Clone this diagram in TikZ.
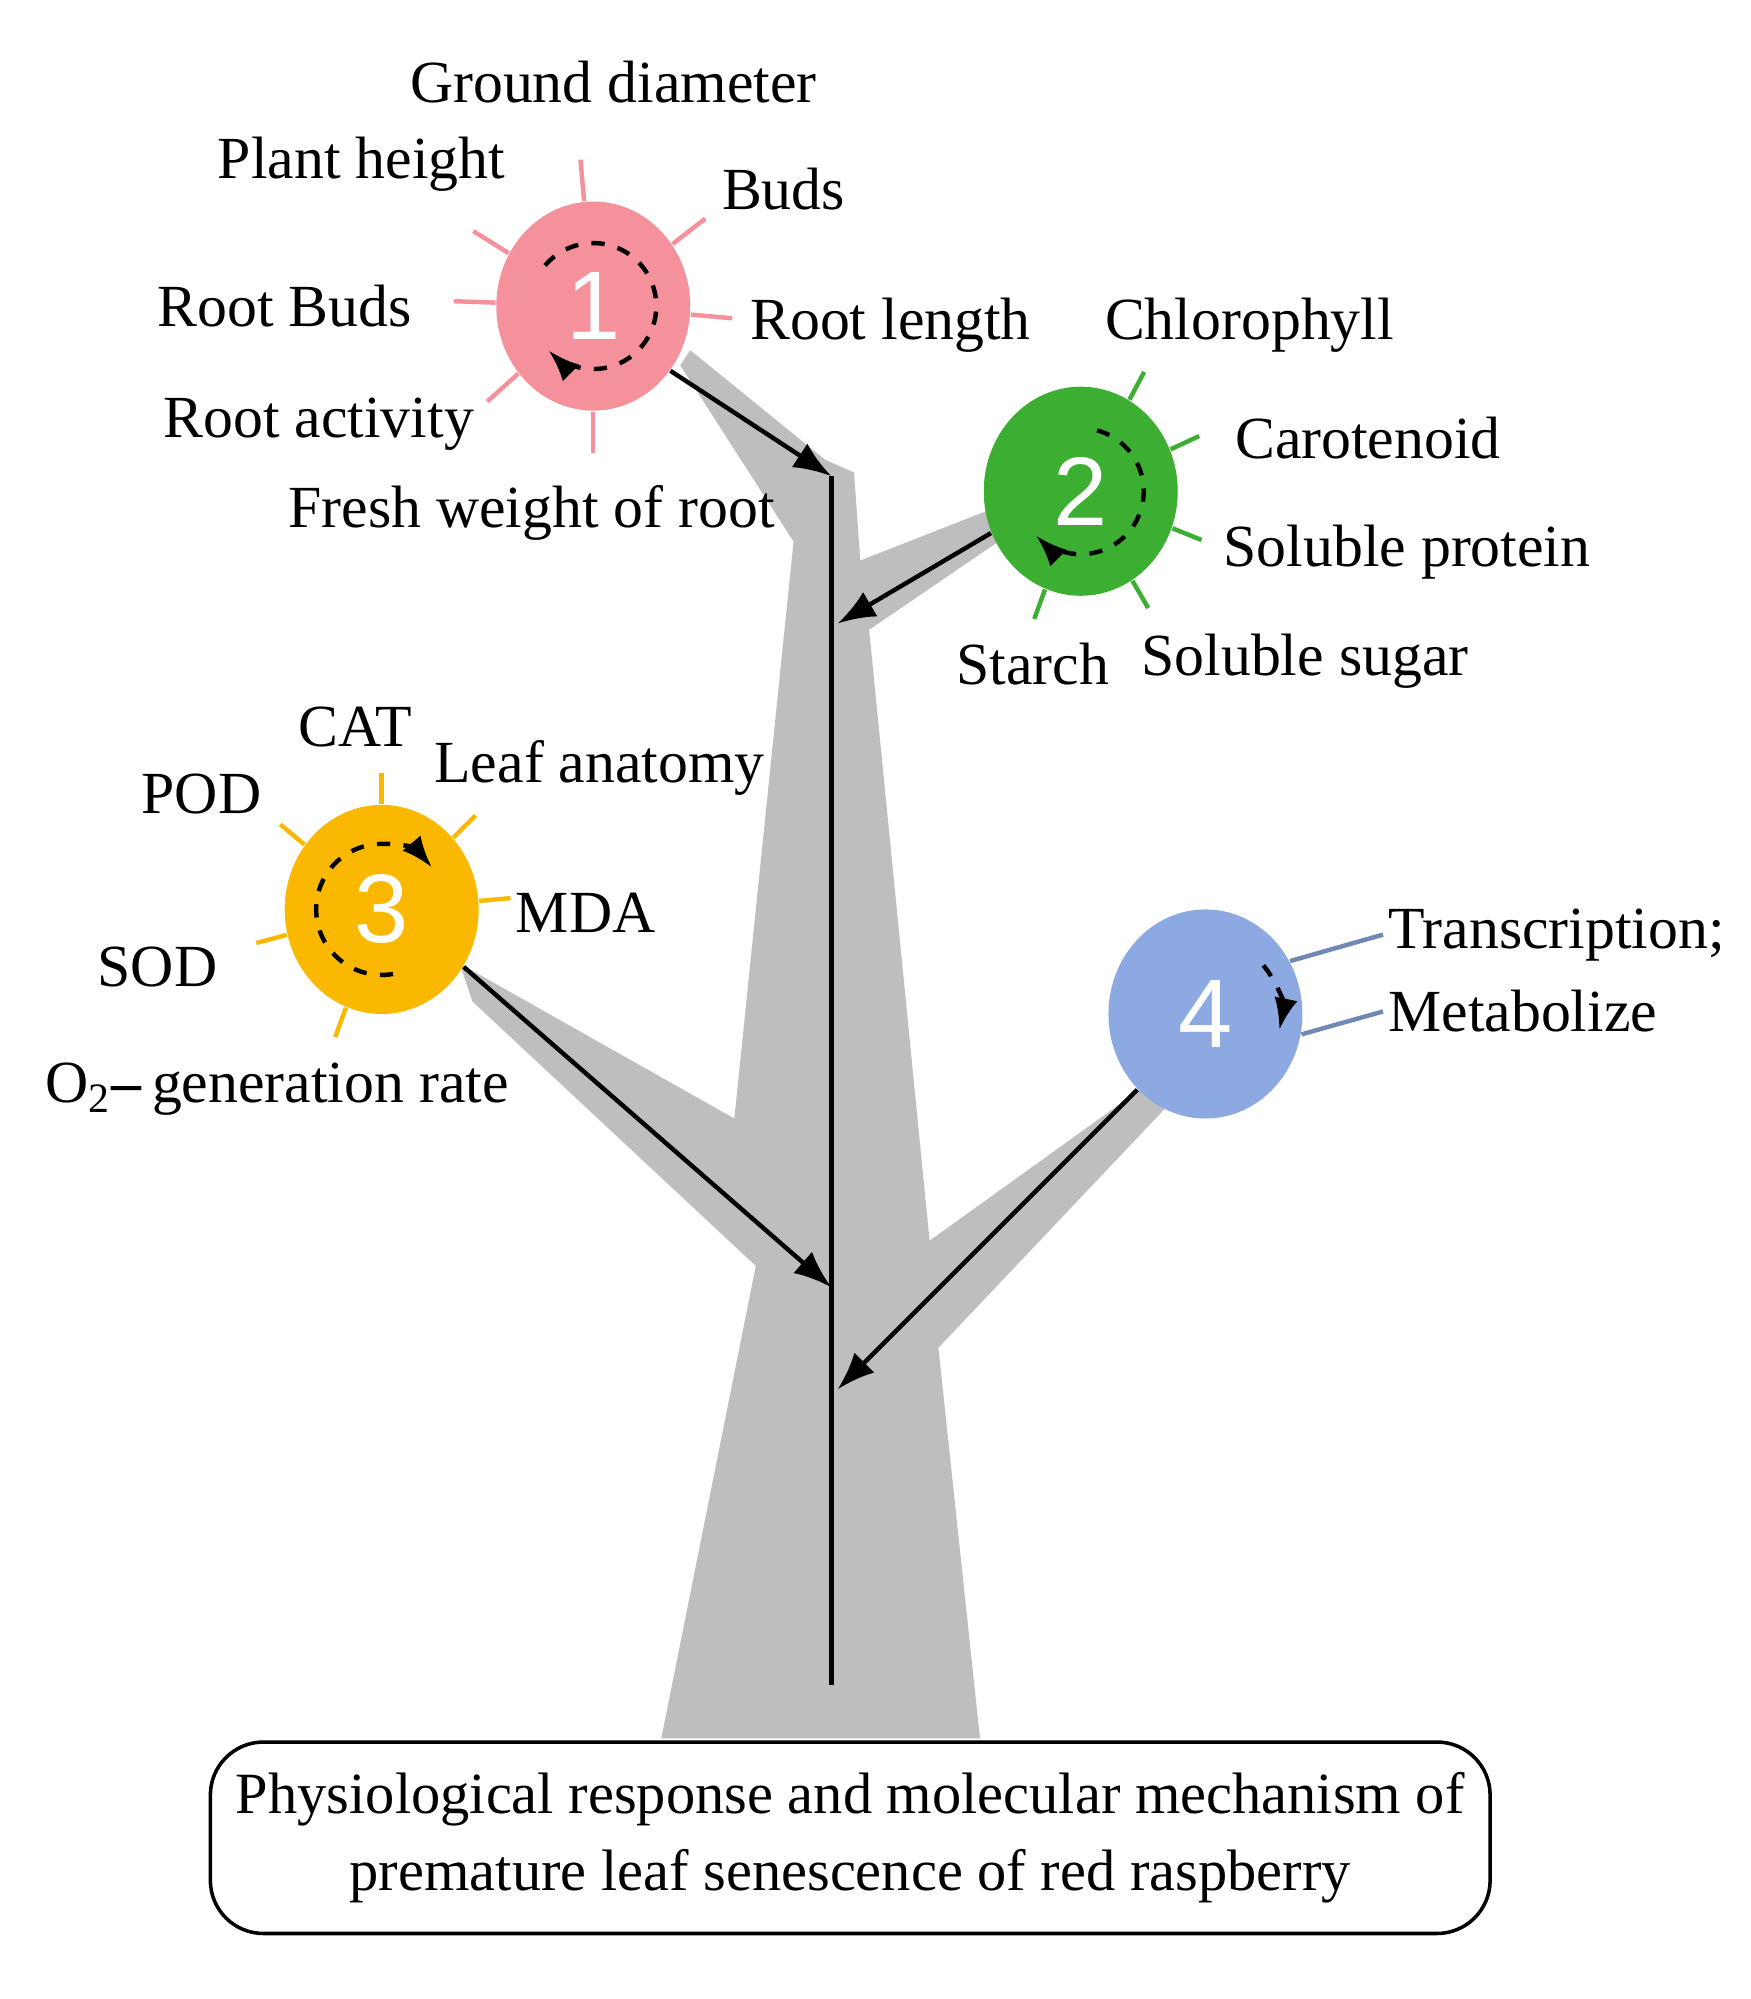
\documentclass[tikz,border=0pt]{standalone}
\usepackage{fontspec}
\setmainfont{Liberation Serif}
\newfontfamily\numfont{Liberation Sans}
\usetikzlibrary{
  shapes.geometric,
  arrows.meta,
  positioning,
}
\definecolor{pinkc}{RGB}{245,145,155}
\definecolor{greenc}{RGB}{60,175,50}
\definecolor{yellowc}{RGB}{250,185,0}
\definecolor{bluec}{RGB}{140,170,225}
\definecolor{trunkc}{RGB}{190,190,190}
\tikzset{
  factor/.style={
    ellipse,
    minimum width=1.54cm,
    minimum height=1.66cm,
    text=white,
    font=\numfont\fontsize{22}{24}\selectfont,
  },
  item/.style={
    font=\fontsize{13.5}{16}\selectfont,
    inner sep=1pt,
  },
  spoke/.style={
    line width=1pt,
  },
  arrow/.style={
    line width=1pt,
    -{Latex[length=3mm]},
  },
  cycle/.style={
    dashed,
    line width=1pt,
    -{Latex[length=2.5mm]},
  },
}
\begin{document}
\begin{tikzpicture}
  \useasboundingbox (0,0) rectangle (13.9,15.87);

  % trunk and branches
  \fill[trunkc] (5.25,2.07) -- (6.00,5.82) -- (3.75,7.92) -- (3.65,8.22)
    -- (5.83,6.99) -- (6.30,11.57) -- (5.40,12.97) -- (5.48,13.09)
    -- (6.55,12.22) -- (6.78,12.12) -- (6.83,11.42) -- (7.85,11.82)
    -- (8.00,11.62) -- (6.90,10.87) -- (7.38,6.02) -- (9.05,7.22)
    -- (9.25,7.07) -- (7.45,5.17) -- (7.78,2.07) -- cycle;

  % factors
  \node[factor, fill=pinkc] (root) at (4.71,13.44) {1};
  \node[factor, fill=greenc] (leaf) at (8.58,11.97) {2};
  \node[factor, fill=yellowc] (stress) at (3.03,8.65) {3};
  \node[factor, fill=bluec] (gene) at (9.57,7.82) {4};

  % inner cycles
  \draw[cycle] (root.center) ++(140:0.5) arc[start angle=140, end angle=-135, radius=0.5];
  \draw[cycle] (leaf.center) ++(75:0.5) arc[start angle=75, end angle=-135, radius=0.5];
  \draw[cycle] (stress.center) ++(-80:0.52) arc[start angle=-80, end angle=-320, radius=0.52];
  \draw[cycle] (gene.center) ++(40:0.6) arc[start angle=40, end angle=-12, radius=0.6];

  % spokes of factor 1
  \foreach \a in {95,148,178,222,270,-5,38}
    \draw[spoke, pinkc] (root.\a) -- ++(\a:0.33);
  % spokes of factor 2
  \foreach \a in {62,25,-22,-60,-110}
    \draw[spoke, greenc] (leaf.\a) -- ++(\a:0.25);
  % spokes of factor 3
  \foreach \a in {90,140,45,5,195,250}
    \draw[spoke, yellowc] (stress.\a) -- ++(\a:0.25);

  % labels of factor 1
  \node[item] (gd) at (4.87,15.22) {Ground diameter};
  \node[item] (ph) at (2.87,14.57) {Plant height};
  \node[item] (bud) at (6.22,14.37) {Buds};
  \node[item] (rb) at (2.26,13.44) {Root Buds};
  \node[item] (rl) at (7.07,13.29) {Root length};
  \node[item] (ra) at (2.53,12.50) {Root activity};
  \node[item] (fw) at (4.22,11.80) {Fresh weight of root};

  % labels of factor 2
  \node[item] (chl) at (9.92,13.29) {Chlorophyll};
  \node[item] (car) at (10.86,12.39) {Carotenoid};
  \node[item] (sp) at (11.17,11.49) {Soluble protein};
  \node[item] (ss) at (10.36,10.62) {Soluble sugar};
  \node[item] (st) at (8.20,10.60) {Starch};

  % labels of factor 3
  \node[item] (cat) at (2.82,10.10) {CAT};
  \node[item] (pod) at (1.60,9.57) {POD};
  \node[item] (la) at (4.76,9.77) {Leaf anatomy};
  \node[item] (mda) at (4.65,8.62) {MDA};
  \node[item] (sod) at (1.25,8.19) {SOD};
  \node[item] (o2) at (2.20,7.22) {O\textsubscript{2}\textbf{--}\,generation rate};

  % labels of factor 4
  \node[item, anchor=west] (tr) at (10.98,8.45) {Transcription;};
  \node[item, anchor=west] (met) at (10.98,7.84) {Metabolize};
  \draw[spoke, bluec!80!black] (gene.32) -- (tr.west);
  \draw[spoke, bluec!80!black] (gene.-12) -- (met.west);

  % main stem
  \coordinate (top) at (6.60,12.09);
  \coordinate (base) at (6.60,2.49);
  \coordinate (j2) at (6.65,10.92);
  \coordinate (j3) at (6.60,5.65);
  \coordinate (j4) at (6.65,4.84);
  \draw[line width=1pt] (top) -- (base);
  \draw[arrow] (root.-40) -- (top);
  \draw[arrow] (leaf.205) -- (j2);
  \draw[arrow] (stress.-35) -- (j3);
  \draw[arrow] (gene.228) -- (j4);

  % title box
  \node[draw, rounded corners=12pt, line width=0.8pt, minimum width=10.16cm,
    minimum height=1.52cm, align=center, font=\fontsize{13.2}{17.5}\selectfont]
    (title) at (6.75,1.28)
    {Physiological response and molecular mechanism of\\
     premature leaf senescence of red raspberry};
\end{tikzpicture}
\end{document}
